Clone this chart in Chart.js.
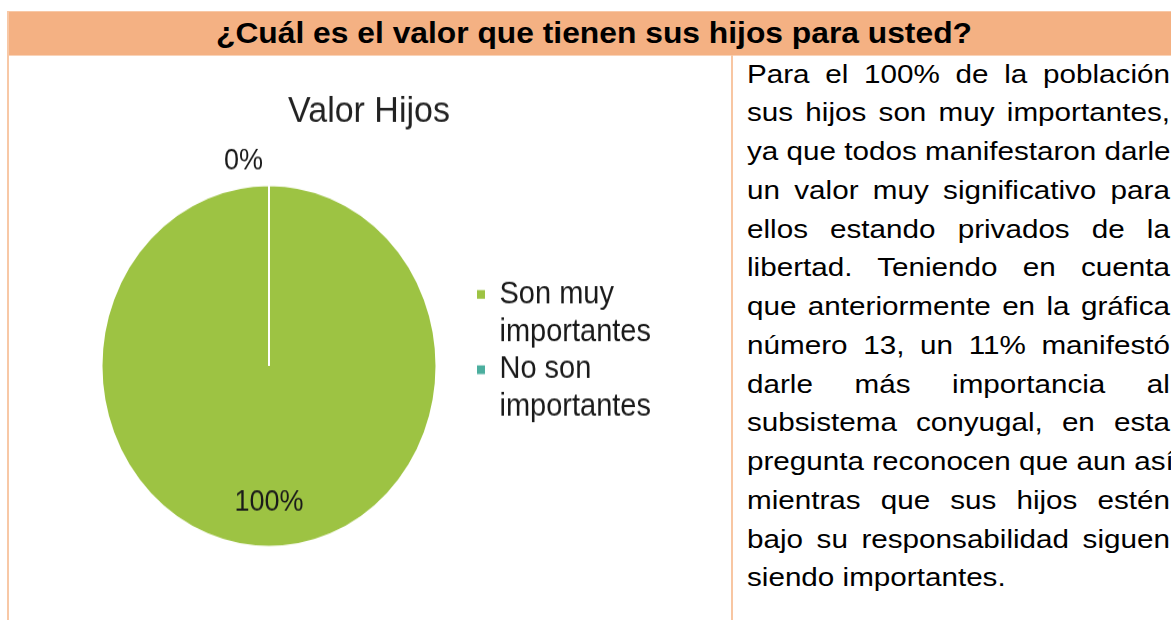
<!DOCTYPE html>
<html lang="es">
<head>
<meta charset="utf-8">
<title>Valor Hijos</title>
<script src="https://cdn.jsdelivr.net/npm/chart.js@4.4.1/dist/chart.umd.min.js"></script>
<style>
  html, body { margin: 0; padding: 0; background: #ffffff; }
  body { width: 1171px; height: 620px; position: relative; overflow: hidden; font-family: "Liberation Sans", Arial, sans-serif; }
  .line { position: absolute; }
  #header { position: absolute; left: 9px; top: 12px; width: 1162px; height: 43px; background: #F4B183; }
  #headerText { position: absolute; left: 216px; top: 18.8px; font-size: 29px; line-height: 29px; font-weight: bold; color: #000; white-space: nowrap; transform: scaleX(1.096); transform-origin: 0 0; }
  #chartBox { position: absolute; left: 9px; top: 56px; width: 722px; height: 522px; transform: scaleY(1.08); transform-origin: 0 0; }
  #para { position: absolute; left: 747px; top: 54.6px; width: 371px; font-size: 26px; line-height: 38.75px; color: #000; transform: scaleX(1.14); transform-origin: 0 0; }
  #para div { height: 38.75px; white-space: nowrap; text-align: justify; text-align-last: justify; }
  #para div.last { text-align: left; text-align-last: left; }
</style>
</head>
<body>
<div class="line" style="left:7px;top:11px;width:2px;height:609px;background:#F8C8A6;"></div>
<div class="line" style="left:9px;top:11px;width:1162px;height:1px;background:#F8C8A6;"></div>
<div id="header"></div>
<div class="line" style="left:9px;top:55px;width:1162px;height:1px;background:#F9D3B8;"></div>
<div class="line" style="left:731px;top:55px;width:2px;height:565px;background:#F8C6A2;"></div>
<div id="headerText">¿Cuál es el valor que tienen sus hijos para usted?</div>

<div id="chartBox"><canvas id="c" width="722" height="522"></canvas></div>

<div id="para"></div>

<script>
// ---- data ----
const chartTitle = 'Valor Hijos';
const categories = [['Son muy', 'importantes'], ['No son', 'importantes']];
const values = [100, 0];
const colors = ['#9DC343', '#4BAE9E'];
const headerQuestion = '¿Cuál es el valor que tienen sus hijos para usted?';
const paragraphLines = [
  'Para el 100% de la población',
  'sus hijos son muy importantes,',
  'ya que todos manifestaron darle',
  'un valor muy significativo para',
  'ellos estando privados de la',
  'libertad. Teniendo en cuenta',
  'que anteriormente en la gráfica',
  'número 13, un 11% manifestó',
  'darle más importancia al',
  'subsistema conyugal, en esta',
  'pregunta reconocen que aun así',
  'mientras que sus hijos estén',
  'bajo su responsabilidad siguen',
  'siendo importantes.'
];

document.getElementById('headerText').textContent = headerQuestion;
const para = document.getElementById('para');
paragraphLines.forEach((t, i) => {
  const d = document.createElement('div');
  d.textContent = t;
  if (i === paragraphLines.length - 1) d.className = 'last';
  para.appendChild(d);
});

const FONT = 'Liberation Sans';

const pctLabels = {
  id: 'pctLabels',
  afterDatasetsDraw(chart) {
    const meta = chart.getDatasetMeta(0);
    const ds = chart.data.datasets[0].data;
    const total = ds.reduce((a, b) => a + b, 0);
    const ctx = chart.ctx;
    ctx.save();
    ctx.font = '27px "' + FONT + '"';
    ctx.fillStyle = '#1a1a1a';
    ctx.textBaseline = 'middle';
    meta.data.forEach((arc, i) => {
      const p = arc.getProps(['x', 'y', 'startAngle', 'endAngle', 'outerRadius', 'circumference'], true);
      const mid = (p.startAngle + p.endAngle) / 2;
      const txt = Math.round(ds[i] / total * 100) + '%';
      if (p.circumference < 0.3) {
        const r = p.outerRadius * 1.134;
        ctx.textAlign = 'right';
        ctx.fillText(txt, p.x + Math.cos(mid) * r - 6, p.y + Math.sin(mid) * r);
      } else {
        const r = p.outerRadius * 0.755;
        ctx.textAlign = 'center';
        ctx.fillText(txt, p.x + Math.cos(mid) * r, p.y + Math.sin(mid) * r);
      }
    });
    ctx.restore();
  }
};

new Chart(document.getElementById('c'), {
  type: 'pie',
  data: {
    labels: categories,
    datasets: [{
      data: values,
      backgroundColor: colors,
      borderColor: '#ffffff',
      borderWidth: 2,
      hoverOffset: 0
    }]
  },
  plugins: [pctLabels],
  options: {
    responsive: false,
    animation: false,
    devicePixelRatio: 1,
    events: [],
    layout: { padding: { left: 52, right: 54, top: 0, bottom: 66.5 } },
    plugins: {
      tooltip: { enabled: false },
      title: {
        display: true,
        text: chartTitle,
        color: '#222222',
        font: { family: FONT, size: 34, weight: 'normal', lineHeight: 1.2 },
        padding: { top: 31.2, bottom: 46.5 }
      },
      subtitle: {
        display: true,
        position: 'right',
        text: '',
        font: { family: FONT, size: 10, lineHeight: 1.2 },
        padding: { top: 2, bottom: 2 }
      },
      legend: {
        display: true,
        position: 'right',
        align: 'start',
        fullSize: false,
        maxWidth: 400,
        title: { display: true, text: '', font: { size: 10, lineHeight: 1.2 }, padding: { top: 75.8, bottom: 0 } },
        labels: {
          color: '#1a1a1a',
          font: { family: FONT, size: 29, lineHeight: 1.2 },
          boxWidth: 8,
          boxHeight: 8,
          padding: 0,
          generateLabels(chart) {
            const ds = chart.data.datasets[0];
            return chart.data.labels.map((lab, i) => ({
              text: lab,
              fillStyle: ds.backgroundColor[i],
              strokeStyle: ds.backgroundColor[i],
              fontColor: '#1a1a1a',
              lineWidth: 0,
              hidden: false,
              index: i
            }));
          }
        }
      }
    }
  }
});
</script>
</body>
</html>
